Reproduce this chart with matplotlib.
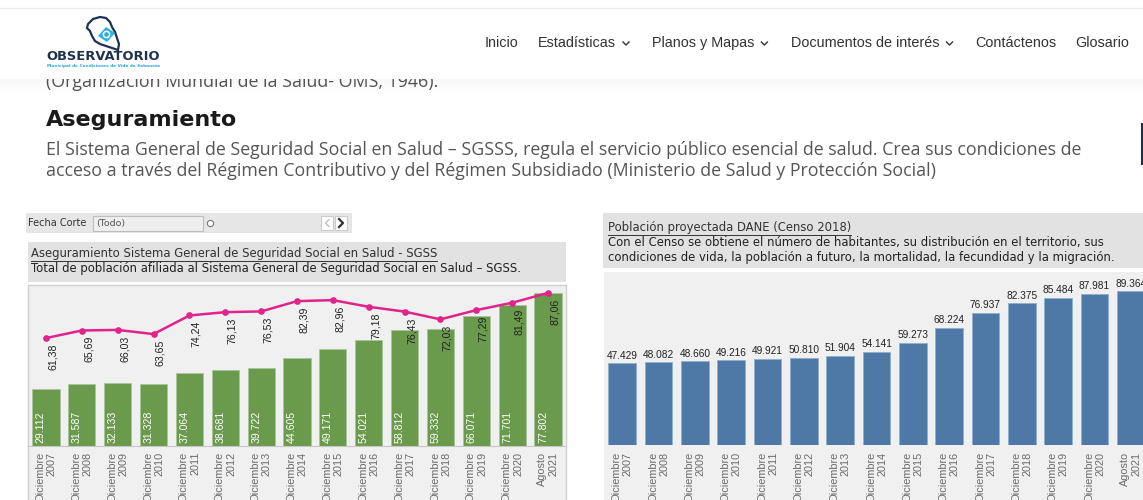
import matplotlib.pyplot as plt
from matplotlib.patches import Rectangle, Polygon
from matplotlib.lines import Line2D

W, H = 1143, 500

periodos = ["Diciembre\n2007", "Diciembre\n2008", "Diciembre\n2009", "Diciembre\n2010",
            "Diciembre\n2011", "Diciembre\n2012", "Diciembre\n2013", "Diciembre\n2014",
            "Diciembre\n2015", "Diciembre\n2016", "Diciembre\n2017", "Diciembre\n2018",
            "Diciembre\n2019", "Diciembre\n2020", "Agosto\n2021"]
afiliados = [29112, 31587, 32133, 31328, 37064, 38681, 39722, 44605,
             49171, 54021, 58812, 59332, 66071, 71701, 77802]
cobertura = [61.38, 65.69, 66.03, 63.65, 74.24, 76.13, 76.53, 82.39,
             82.96, 79.18, 76.43, 72.03, 77.29, 81.49, 87.06]
poblacion = [47429, 48082, 48660, 49216, 49921, 50810, 51904, 54141,
             59273, 68224, 76937, 82375, 85484, 87981, 89364]

menu = ["Inicio", "Estadísticas", "Planos y Mapas", "Documentos de interés", "Contáctenos", "Glosario"]
menu_desplegable = [False, True, True, True, False, False]
menu_x = [485, 538, 652, 791, 975, 1075]


def miles(v):
    return f"{v:,}".replace(",", ".")


fig = plt.figure(figsize=(W / 100, H / 100), dpi=100)
fig.patch.set_facecolor("white")


# helpers in screen pixels (y from the top)
def box(x0, y0, x1, y1, z=1, **kw):
    r = Rectangle((x0 / W, 1 - y1 / H), (x1 - x0) / W, (y1 - y0) / H,
                  transform=fig.transFigure, zorder=z, **kw)
    fig.add_artist(r)
    return r


def line(xs, ys, z=4, **kw):
    fig.add_artist(Line2D([x / W for x in xs], [1 - y / H for y in ys],
                          transform=fig.transFigure, zorder=z, **kw))


def label(x, y, s, **kw):
    return fig.text(x / W, 1 - y / H, s, **kw)


# text partly hidden under the header
label(46, 87, "(Organización Mundial de la Salud- OMS, 1946).", fontsize=12.8,
      family="Open Sans", color="#555555", va="baseline", zorder=2)

# header with its shadow
for i in range(14):
    box(0, 78 + i, W, 79 + i, z=9, facecolor="black", edgecolor="none", alpha=0.03 * (1 - i / 14))
box(0, 0, W, 79, z=10, facecolor="white", edgecolor="none")
line([0, W], [7.5, 7.5], z=11, color="#ececec", lw=1)

# logo
mapa = [(88, 24), (93, 19), (100, 17), (106, 18), (110, 22), (112, 27), (115, 32), (117, 38),
        (119, 44), (118, 50), (112, 48), (106, 46), (100, 44), (95, 41), (92, 36), (90, 31), (87, 28)]
fig.add_artist(Polygon([(x / W, 1 - y / H) for x, y in mapa], closed=True, transform=fig.transFigure,
                       facecolor="white", edgecolor="#1f3150", lw=1.6, zorder=11))
rombo = [(98, 36), (106, 27), (115, 33), (107, 42)]
fig.add_artist(Polygon([(x / W, 1 - y / H) for x, y in rombo], closed=True, transform=fig.transFigure,
                       facecolor="#2bb0e6", edgecolor="none", zorder=12))
line([106], [34], z=13, marker="o", ms=4.5, mfc="none", mec="white", mew=1.1, ls="none")
label(46, 57, "OBSERVATORIO", fontsize=9.4, fontweight="bold", color="#1f3150",
      va="center", zorder=12)
label(47, 66, "Municipal de Condiciones de Vida de Sabaneta", fontsize=3.1, fontweight="bold",
      color="#2ba6de", va="center", zorder=12)

# navigation
menu_textos = []
for texto, x in zip(menu, menu_x):
    menu_textos.append(label(x, 43, texto, fontsize=10.4, family="Liberation Sans",
                             color="#333333", va="center", zorder=12))

# section heading and paragraph
label(46, 120, "Aseguramiento", fontsize=16, fontweight="bold", color="#1a1a1a", va="center")
label(46, 150, "El Sistema General de Seguridad Social en Salud – SGSSS, regula el servicio público "
      "esencial de salud. Crea sus condiciones de", fontsize=12.8, family="Open Sans",
      color="#555555", va="center")
label(46, 171, "acceso a través del Régimen Contributivo y del Régimen Subsidiado (Ministerio de "
      "Salud y Protección Social)", fontsize=12.8, family="Open Sans", color="#555555", va="center")
box(1141, 123, 1144, 165, facecolor="#1f3150", edgecolor="none")

# filter bar
box(26, 213, 352, 233, facecolor="#e6e6e6", edgecolor="none")
label(28, 223, "Fecha Corte", fontsize=7, color="#333333", va="center")
box(93, 216, 203, 231, facecolor="#efefef", edgecolor="#bdbdbd", lw=0.8)
label(96, 223.5, "(Todo)", fontsize=6.8, color="#555555", va="center")
line([209.5], [223], marker="o", ms=4.5, mfc="white", mec="#777777", mew=0.8, ls="none")
box(321, 216, 333, 230, facecolor="white", edgecolor="#cccccc", lw=0.8)
box(335, 216, 347, 230, facecolor="white", edgecolor="#cccccc", lw=0.8)
line([329, 325.5, 329], [219.5, 223, 226.5], color="#bbbbbb", lw=0.9)
line([339, 343, 339], [219, 223, 227], color="#333333", lw=1.6)

# left panel
box(28, 242, 566, 282, facecolor="#e2e2e2", edgecolor="none")
titulo_izq = label(31, 254, "Aseguramiento Sistema General de Seguridad Social en Salud - SGSS",
                   fontsize=8.4, color="#333333", va="center")
label(31, 268.5, "Total de población afiliada al Sistema General de Seguridad Social en Salud – SGSS.",
      fontsize=8.4, color="#222222", va="center")
box(28, 285, 566, 503, facecolor="#f0f0f0", edgecolor="#d0d0d0", lw=1)

ax1 = fig.add_axes([28 / W, 1 - 446 / H, 538 / W, 160 / H])
ax1.set_zorder(2)
ax1.patch.set_visible(False)
x = list(range(len(periodos)))
ax1.bar(x, afiliados, width=0.76, color="#6a9a4b", edgecolor="#a9c49a", lw=0.6)
ax1.set_xlim(-0.5, len(periodos) - 0.5)
ax1.set_ylim(0, 81200)
for i, v in enumerate(afiliados):
    ax1.annotate(miles(v), (i - 0.14, 0), xytext=(0, 2), textcoords="offset points",
                 rotation=90, ha="center", va="bottom", fontsize=7.6,
                 family="Liberation Sans", color="white")
ax1.set_xticks(x)
ax1.set_xticklabels(periodos, rotation=90, ha="center", va="top", multialignment="right",
                    fontsize=7.8, family="Liberation Sans", color="#6b6b6b")
ax1.tick_params(length=0, pad=4)
ax1.set_yticks([])
for s in ["top", "left", "right"]:
    ax1.spines[s].set_visible(False)
ax1.spines["bottom"].set_color("#c6c6c6")

ax2 = ax1.twinx()
ax2.set_zorder(3)
ax2.plot(x, cobertura, color="#e0248c", lw=1.8, marker="o", ms=3.8)
ax2.set_ylim(0, 91)
for i, v in enumerate(cobertura):
    ax2.annotate(f"{v:.2f}".replace(".", ","), (i, v), xytext=(5, -4), textcoords="offset points",
                 rotation=90, ha="center", va="top", fontsize=7.6,
                 family="Liberation Sans", color="#222222")
ax2.axis("off")

# right panel
box(603, 213, 1145, 268, facecolor="#e2e2e2", edgecolor="none")
titulo_der = label(608, 228, "Población proyectada DANE (Censo 2018)", fontsize=8.4,
                   color="#333333", va="center")
label(608, 242.5, "Con el Censo se obtiene el número de habitantes, su distribución en el territorio, sus",
      fontsize=8.4, color="#222222", va="center")
label(608, 257, "condiciones de vida, la población a futuro, la mortalidad, la fecundidad y la migración.",
      fontsize=8.4, color="#222222", va="center")
box(604, 272, 1145, 503, facecolor="#f0f0f0", edgecolor="none")

ax3 = fig.add_axes([604 / W, 1 - 445 / H, 545 / W, 173 / H])
ax3.set_zorder(2)
ax3.patch.set_visible(False)
ax3.bar(x, poblacion, width=0.77, color="#4e79a6", edgecolor="#8fb0cf", lw=0.6)
ax3.set_xlim(-0.5, len(periodos) - 0.5)
ax3.set_ylim(0, 100600)
for i, v in enumerate(poblacion):
    ax3.annotate(miles(v), (i, v), xytext=(0, 2), textcoords="offset points",
                 ha="center", va="bottom", fontsize=7.3, family="Liberation Sans", color="#222222")
ax3.set_xticks(x)
ax3.set_xticklabels(periodos, rotation=90, ha="center", va="top", multialignment="right",
                    fontsize=7.8, family="Liberation Sans", color="#6b6b6b")
ax3.tick_params(length=0, pad=5)
ax3.set_yticks([])
for s in ax3.spines.values():
    s.set_visible(False)

# underlines and menu arrows need the text extents
fig.canvas.draw()
for t in [titulo_izq, titulo_der]:
    bb = t.get_window_extent()
    fig.add_artist(Line2D([bb.x0 / W, bb.x1 / W], [(bb.y0 - 0.5) / H] * 2,
                          transform=fig.transFigure, color="#333333", lw=0.7, zorder=4))
for t, desplegable in zip(menu_textos, menu_desplegable):
    if desplegable:
        bb = t.get_window_extent()
        cx = bb.x1 + 10
        line([cx - 3, cx, cx + 3], [42, 45, 42], z=12, color="#333333", lw=1.0)

fig.savefig("out.png", dpi=100)
